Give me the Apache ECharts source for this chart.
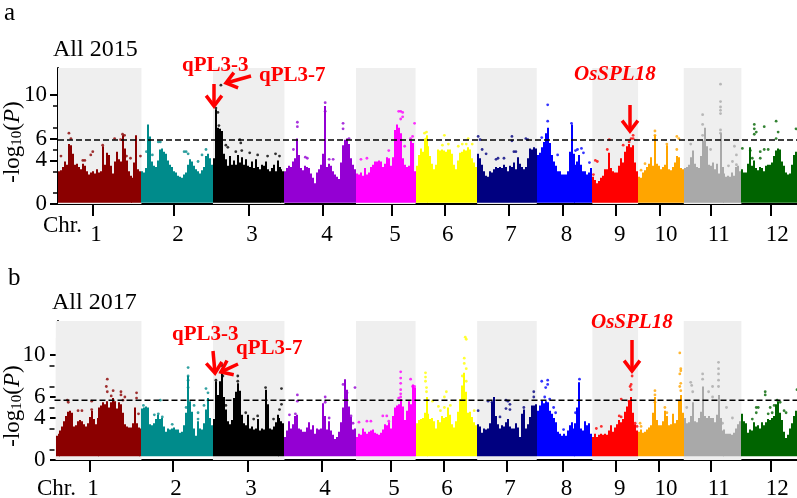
<!DOCTYPE html>
<html>
<head>
<meta charset="utf-8">
<style>html,body{margin:0;padding:0;background:#fff}#c{width:797px;height:498px}</style>
<script src="https://cdn.jsdelivr.net/npm/echarts@6/dist/echarts.min.js"></script>
</head>
<body>
<div id="c"></div>
<script>
const chromosomes = ['1','2','3','4','5','6','7','8','9','10','11','12'];
const chrStartMb = [0,42,78,114,150,180,211,241,269,292,315,344];
const chrLengthMb = [42,36,36,36,30,31,30,28,23,23,29,28];
const tickMb2015 = [17.6,58.4,96.1,133.4,168,194.8,227,254,280.7,302.9,328.6,358.8];
const labelMb2015 = [19.1,60.4,97.6,135.4,169.6,196.2,228,256,282.8,306,332.6,362];
const tickMb2017 = [16.1,57.7,95.6,132.9,167.5,194.2,226,254,280.7,302.4,328.6,358.8];
const labelMb2017 = [17.6,59.4,97.1,134.4,169.1,195.8,227.5,256,282.8,306,332.6,362];
const yMajorTicks = [0,2,4,6,8,10];
const yMinorTicks = [1,3,5,7,9];
const threshold2015 = 5.87;
const threshold2017 = 5.7;

// Upper envelope of the dense points, one value per bin along each chromosome
const envelope2015 = [
 [3.0,3.1,3.4,3.9,3.6,5.5,5.4,4.6,3.6,3.7,3.4,3.2,3.7,3.5,3.0,2.7,2.9,3.0,2.8,3.2,2.9,3.0,5.3,3.6,4.7,4.5,3.5,2.8,3.9,4.8,4.1,3.9,6.3,5.1,4.0,3.0,2.6,2.4,3.8,6.3,3.2,3.0],
 [3.0,2.9,3.3,7.3,6.2,3.9,3.5,3.4,4.0,5.0,5.1,4.8,4.6,4.0,3.6,3.4,3.0,2.9,2.6,2.5,2.4,2.7,2.9,3.6,4.1,3.9,3.5,3.2,3.0,2.8,3.1,3.4,4.4,4.6,4.2,3.6],
 [4.2,8.7,7.0,6.9,6.7,4.6,4.1,3.5,4.4,3.6,4.0,3.6,4.5,3.8,4.3,3.6,4.1,3.5,3.4,3.9,3.3,4.1,3.4,3.2,3.6,3.5,3.9,3.2,3.0,3.3,3.6,3.0,4.0,3.4,3.2,3.0],
 [3.0,3.3,3.5,3.4,3.9,4.2,6.0,4.5,3.3,3.1,3.5,3.4,3.3,2.8,2.4,1.9,2.9,3.2,3.6,4.6,9.0,3.4,3.7,3.5,3.0,2.7,2.5,2.3,3.8,5.4,5.9,6.0,5.5,4.2,3.6,3.2],
 [2.8,2.7,2.9,2.6,3.3,2.7,2.9,3.4,3.6,3.9,3.9,4.0,3.9,3.4,3.7,4.3,4.2,3.5,4.3,6.8,7.3,7.0,6.5,4.2,3.6,3.4,3.5,5.8,5.6,3.0],
 [3.5,4.5,5.1,4.8,6.0,6.3,5.3,4.4,3.7,3.2,3.6,5.0,4.9,5.0,4.9,4.8,5.0,5.0,4.6,3.6,3.2,4.0,4.7,4.8,5.0,4.9,5.2,5.0,4.2,3.8,3.4],
 [4.6,4.2,3.6,3.0,2.6,2.5,3.0,2.9,3.2,3.4,3.3,3.4,3.3,3.6,3.4,3.0,3.5,3.4,3.8,3.2,4.3,3.7,3.4,3.2,3.4,4.2,5.1,5.0,5.2,5.1],
 [4.5,4.7,5.2,5.7,6.5,7.0,5.6,4.5,3.9,3.5,3.0,3.0,2.7,2.7,2.7,3.0,4.8,7.3,4.6,3.6,3.9,4.5,3.6,3.0,3.0,2.7,2.9,3.3],
 [2.5,2.2,1.9,2.1,2.4,2.6,3.2,3.2,4.7,3.3,3.0,2.9,2.9,3.5,4.2,3.8,4.8,5.3,5.5,5.2,5.4,3.8,3.0],
 [2.5,2.4,2.9,3.1,3.4,3.7,4.3,3.5,6.3,3.7,3.5,3.2,3.4,3.6,5.4,3.2,3.1,3.4,3.8,4.4,4.3,3.3,3.2],
 [3.3,3.4,3.6,4.3,4.9,3.7,3.4,3.3,4.4,5.8,7.0,5.3,3.6,3.5,3.8,3.2,3.7,2.8,6.5,3.4,2.8,2.5,2.6,2.5,2.9,2.6,3.4,3.5,3.0],
 [3.2,2.9,2.9,3.7,5.2,3.5,4.0,3.3,3.1,3.4,3.3,3.0,3.5,3.6,3.6,3.8,4.4,4.9,5.1,5.0,3.9,3.5,2.9,2.7,2.8,3.6,4.5,4.8]
];
const envelope2017 = [
 [2.3,2.5,2.8,3.2,3.7,4.2,4.6,4.7,4.5,3.2,3.3,3.7,3.8,3.7,3.4,3.2,3.5,4.1,4.7,3.9,3.4,4.0,5.0,5.2,5.5,5.3,5.6,5.0,5.5,5.9,5.6,4.9,5.5,5.3,4.5,3.4,3.2,3.1,3.1,3.5,5.0,3.5,3.1,3.0],
 [4.9,5.0,5.1,5.0,3.4,3.3,3.5,3.9,4.3,3.9,4.0,3.2,2.7,3.0,2.9,3.0,3.1,2.9,2.9,2.6,2.7,3.3,4.5,8.0,5.6,4.6,3.0,2.3,3.7,3.0,2.9,3.5,4.8,5.9,4.0,3.3],
 [3.9,7.5,6.2,7.5,8.6,6.0,4.8,3.7,3.4,3.8,5.9,6.5,7.3,6.6,4.3,3.5,3.3,4.3,3.0,3.2,2.9,3.0,3.9,2.8,3.0,2.9,6.7,5.3,3.0,2.9,3.2,3.6,4.3,4.0,3.7,3.5],
 [2.2,2.8,3.7,3.0,3.4,4.2,4.3,3.0,2.9,2.7,2.7,3.1,3.6,2.9,3.3,2.5,3.0,2.9,3.0,5.4,4.2,2.9,3.7,2.8,2.4,2.0,2.2,2.7,3.6,5.0,7.7,6.7,5.1,4.1,2.9,3.0],
 [2.2,2.5,2.4,3.0,2.7,2.5,2.7,2.8,2.9,2.6,2.5,2.4,2.6,2.9,3.4,3.3,3.6,3.0,4.2,5.0,5.2,5.3,5.8,5.1,3.8,4.7,5.6,5.3,7.2,6.9],
 [3.5,3.8,3.9,4.0,4.5,6.0,4.4,3.9,4.0,3.7,3.0,3.8,3.6,4.2,4.0,4.1,5.0,4.3,3.4,3.1,3.7,4.6,5.8,7.1,8.3,6.5,4.5,4.6,4.1,3.6,3.3],
 [3.4,3.2,2.6,3.0,2.9,3.0,3.5,5.5,6.0,4.2,3.4,3.0,3.3,3.2,3.6,3.9,3.2,3.0,3.0,3.5,3.1,2.2,4.4,4.8,3.0,3.4,4.1,5.2,5.2,5.3],
 [4.7,5.2,5.7,5.4,5.6,5.5,4.7,4.4,4.0,3.6,2.7,2.5,2.3,2.5,2.3,2.8,3.3,3.6,3.0,3.5,5.0,7.4,3.0,2.8,3.7,3.3,3.5,2.5],
 [2.2,2.5,2.2,2.4,2.5,2.4,2.5,2.4,2.8,3.3,2.7,3.1,3.4,3.8,3.6,3.9,4.6,5.1,5.7,6.0,4.5,3.4,2.8],
 [2.7,2.9,2.6,2.7,2.9,3.1,3.3,4.5,6.0,3.8,3.3,3.3,3.7,4.7,4.2,3.3,3.4,4.4,3.5,3.8,5.7,6.2,4.5],
 [4.0,3.5,3.6,4.2,5.5,3.7,3.6,4.0,4.6,7.0,4.2,4.0,4.2,4.0,4.0,3.6,4.3,6.2,4.0,2.8,2.9,2.5,2.5,2.5,2.4,2.6,3.0,3.4,3.7],
 [4.4,3.7,3.5,2.6,2.9,2.8,3.6,3.2,3.3,3.0,3.6,3.3,3.6,3.9,3.8,4.0,4.2,5.3,5.6,4.5,3.8,2.7,2.1,2.4,3.0,3.5,4.2,4.7]
];

// Isolated points above the envelope: [bin along the chromosome, -log10 P]
const peaks2015 = [
 [[1,4.4],[5,6.5],[6,6.0],[12,4.0],[13,4.0],[16,4.5],[17,4.8],[22,5.4],[28,6.0],[32,6.4],[33,6.3],[31,5.9],[34,4.4],[36,4.2],[41,4.4]],
 [[2,4.8],[5,4.5],[8,5.7],[9,5.7],[21,4.8],[22,4.8],[23,4.6],[30,4.5],[28,3.9],[32,5.0]],
 [[1,8.8],[2,8.4],[3.5,10.9],[2.5,7.2],[6,5.4],[7,5.2],[13,5.9],[13.5,5.6],[11,4.8],[14,4.9],[18,4.7],[22,4.5],[27,4.4],[33,4.4],[31,4.6]],
 [[6,7.5],[6,7.1],[4,5.0],[10,4.3],[11,4.2],[22,4.1],[24,4.1],[29,7.4],[29,6.9],[32,6.0],[20,9.3],[20,8.5]],
 [[2,4.1],[5,4.2],[16,4.9],[21,8.5],[22,8.5],[23,8.4],[22,7.8],[23,8.0],[29,7.4],[28,6.2],[24,5.3],[27,6.0],[21,6.7]],
 [[5,6.6],[4,6.5],[5,6.0],[14,6.3],[13,5.4],[16,5.5],[21,5.3],[23,5.5],[25,5.5],[26,6.0],[28,5.5]],
 [[0,6.2],[1,5.9],[2,5.0],[4,4.6],[9,4.1],[10,4.2],[13,4.2],[17,6.2],[17,5.8],[24,6.0],[25,5.9],[18,4.8],[19,4.8]],
 [[5,9.1],[5,7.6],[10,4.5],[17,7.4],[19,4.9],[20,5.0],[22,5.1],[23,4.7],[26,3.8],[2,6.1]],
 [[1,4.0],[2,3.9],[0,2.7],[7,5.0],[8,5.9],[15,5.4],[18,5.7],[19,6.0],[20,6.0],[20,6.3]],
 [[8,6.7],[8,6.3],[3,3.7],[1,3.1],[6,3.3],[19,6.2],[20,6.0],[14,5.5],[19,5.0]],
 [[3,5.5],[9,8.2],[9,7.3],[9,6.3],[18,11.0],[18,9.4],[18,8.9],[18,8.6],[18,8.3],[18,6.8],[18,6.5],[13,5.0],[22,3.5],[26,4.5],[25,5.3],[24,3.9],[26,3.6]],
 [[0,5.1],[6,7.3],[6,6.9],[7,6.6],[6,6.4],[11,7.1],[17,7.6],[18,6.6],[17,6.0],[27,6.9],[9,4.2],[9,4.8],[11,5.0],[13,5.0],[4,4.9],[5,4.2]]
];
const peaks2017 = [
 [[5.5,5.7],[6,5.5],[11,4.7],[13,4.7],[18,4.8],[18,5.6],[26,7.7],[25.5,7.0],[26,6.5],[29,6.6],[28,6.1],[33,6.5],[33,6.2],[35,6.0],[41,6.4],[41,5.9],[34,5.7],[42,4.4]],
 [[0.5,5.2],[6,4.3],[8,4.4],[10,4.1],[15,3.4],[9,5.7],[23,8.8],[23,8.0],[23,7.6],[23,6.9],[26,5.2],[28,4.5],[32,6.8],[33,6.4],[31,5.2],[33,5.7],[28,3.9],[22,5.0]],
 [[4,9.0],[3.5,8.4],[4.5,8.0],[12,8.0],[12,7.5],[6,5.2],[16,4.5],[20,3.9],[22,4.2],[26,6.9],[34,6.8],[34,5.3],[1,7.6],[33,4.8],[30,3.9]],
 [[6,6.2],[6,5.6],[2,4.3],[5,4.4],[20,6.0],[20,5.5],[22,4.0],[29,7.2],[35,6.9],[33,4.2],[34,3.5],[31,6.4]],
 [[1,3.6],[5,3.7],[7,3.7],[13,4.2],[15,4.2],[16,3.7],[22,8.4],[22,7.8],[22,7.3],[22,6.7],[22,6.3],[27,7.7],[28,7.0],[29,7.0],[22,6.0],[21,5.9]],
 [[4.5,8.3],[4.5,7.9],[4.5,7.5],[5,6.9],[5,6.5],[8,5.6],[11,5.1],[12,4.7],[14,6.0],[15,6.5],[17,5.2],[14,5.0],[24,6.3],[24,6.1],[23,8.0],[24,9.7],[24.5,11.7],[25,11.5],[24,9.2],[25,8.7],[25,7.5],[29,4.7]],
 [[0,4.7],[5,5.6],[7,5.5],[14,5.7],[15,5.6],[16,5.3],[14,4.9],[16,4.8],[28,6.5],[28,6.0],[11,4.1],[23,5.0]],
 [[2,7.5],[5,7.6],[5,7.2],[4,6.9],[3.5,6.0],[6,5.8],[9,4.5],[8,5.0],[19,4.5],[20,4.6],[21,7.7],[13,2.9]],
 [[1.5,3.0],[4,3.2],[13,4.2],[14,4.1],[14,5.8],[18,5.6],[19,7.2],[19.5,8.0],[19,6.7],[18.5,7.0],[21,3.5],[22,3.2]],
 [[0.5,3.5],[1,3.2],[8,6.6],[8,6.2],[8,5.5],[13,5.0],[20.5,10.2],[21,8.7],[21,8.5],[20.5,8.2],[21,7.3],[20.5,7.0],[21,6.6],[14,4.5]],
 [[3,7.4],[3.5,7.1],[4,6.5],[9,8.2],[9,7.7],[14,7.0],[14,6.0],[17,9.3],[17,8.7],[17,8.2],[17,7.6],[17,7.0],[21,5.0],[19,3.5],[24,4.0],[1,5.0],[12,6.5]],
 [[7,5.0],[7,4.5],[11.5,6.5],[11.5,6.2],[17.5,5.7],[19,5.5],[14,5.0],[13,4.4],[15,4.5],[22,4.5],[27.5,6.7],[16,5.2],[21,4.7],[5,3.9],[8,5.0]]
];

const colors = ['#8B0000','#008B8B','#000000','#9400D3','#FF00FF','#FFFF00','#000080','#0000FF','#FF0000','#FFA500','#A9A9A9','#006400'];
const SERIF = '"Liberation Serif","Times New Roman",serif';

const panels = [
 {name:'All 2015', envelope:envelope2015, peaks:peaks2015, ticks:tickMb2015, labels:labelMb2015, thr:threshold2015,
  left:58, top:68, height:136, yMax:12.48, xMin:0, floor:0.12, first:[0,42], labelMargin:19, yLabelMargin:11},
 {name:'All 2017', envelope:envelope2017, peaks:peaks2017, ticks:tickMb2017, labels:labelMb2017, thr:threshold2017,
  left:54.5, top:321, height:139, yMax:13.24, xMin:-1.76, floor:0.36, first:[-1.2,43.2], labelMargin:17, yLabelMargin:9}
];

const grid=[], xAxis=[], yAxis=[], series=[];
panels.forEach((p,pi)=>{
  const yi=pi*2;
  grid.push({left:p.left, top:p.top, right:0, height:p.height, outerBoundsMode:'none'});
  xAxis.push({type:'value', gridIndex:pi, min:p.xMin, max:372, position:'bottom',
    splitLine:{show:false},
    axisLine:{lineStyle:{color:'#000',width:2}},
    axisTick:{length:12, lineStyle:{color:'#000',width:2}, customValues:p.ticks},
    axisLabel:{customValues:p.labels, margin:p.labelMargin, color:'#000', fontFamily:SERIF, fontSize:23,
      hideOverlap:false, showMinLabel:true, showMaxLabel:true,
      formatter:v=>chromosomes[p.labels.indexOf(v)]}
  });
  yAxis.push({type:'value', gridIndex:pi, min:0, max:p.yMax, position:'left',
    splitLine:{show:false},
    axisLine:{show:true, lineStyle:{color:'#000',width:2}},
    axisTick:{show:true, length:8, lineStyle:{color:'#000',width:2}, customValues:yMajorTicks},
    axisLabel:{margin:p.yLabelMargin, color:'#000', fontFamily:SERIF, fontSize:23, lineHeight:16, customValues:yMajorTicks,
      hideOverlap:false, showMinLabel:true, showMaxLabel:true, formatter:v=>String(v)}
  });
  yAxis.push({type:'value', gridIndex:pi, min:0, max:p.yMax, position:'left',
    splitLine:{show:false}, axisLine:{show:false}, axisLabel:{show:false},
    axisTick:{show:true, length:5, lineStyle:{color:'#000',width:1.5}, customValues:yMinorTicks}
  });

  // shaded bands on alternating chromosomes
  const bands=[];
  chrStartMb.forEach((s,i)=>{ if(i%2===0){
    const st=i===0?p.first[0]:s, ln=i===0?p.first[1]:chrLengthMb[i];
    bands.push([{xAxis:st,yAxis:0},{xAxis:st+ln,yAxis:p.yMax}]);
  }});
  series.push({type:'line', name:p.name+' bands', xAxisIndex:pi, yAxisIndex:yi, data:[], z:1, silent:true,
    markArea:{silent:true, itemStyle:{color:'#EFEFEF'}, data:bands}});

  chromosomes.forEach((c,i)=>{
    const st=i===0?p.first[0]:chrStartMb[i], ln=i===0?p.first[1]:chrLengthMb[i];
    const n=p.envelope[i].length, step=ln/n;
    series.push({type:'custom', name:p.name+' Chr'+c, xAxisIndex:pi, yAxisIndex:yi, z:2, silent:true,
      encode:{x:0,y:1},
      data:p.envelope[i].map((v,k)=>[st+(k+0.5)*step, v]),
      renderItem:(params,api)=>{
        const top=api.coord([api.value(0),api.value(1)]);
        const base=api.coord([api.value(0),p.floor]);
        const w=Math.ceil(api.size([step,0])[0]);
        return {type:'rect', shape:{x:Math.round(top[0]-w/2),y:top[1],width:w,height:base[1]-top[1]}, style:{fill:colors[i]}};
      }});
    series.push({type:'scatter', name:p.name+' Chr'+c+' peaks', xAxisIndex:pi, yAxisIndex:yi, z:3, silent:true,
      symbol:'circle', symbolSize:2.8, itemStyle:{color:colors[i]},
      data:p.peaks[i].map(d=>[st+(d[0]+0.5)*step, d[1]])});
  });

  series.push({type:'line', name:p.name+' threshold', xAxisIndex:pi, yAxisIndex:yi, z:5, silent:true, showSymbol:false,
    lineStyle:{color:'#000',width:1.5,type:[6,3]}, data:[[p.xMin,p.thr],[372,p.thr]]});
});

const text=(x,y,t,o)=>({type:'text',x,y,z:20,silent:true,style:Object.assign({text:t,fill:'#000',font:'23px '+SERIF,textVerticalAlign:'middle'},o||{})});
const redFont='bold 21px '+SERIF, redItalic='italic bold 21px '+SERIF;
function arrow(x1,y1,x2,y2){
  const a=Math.atan2(y2-y1,x2-x1), h=13, s=0.65;
  return [
    {type:'line',z:21,silent:true,shape:{x1,y1,x2:x2-Math.cos(a)*2,y2:y2-Math.sin(a)*2},style:{stroke:'#FF0000',lineWidth:3.5}},
    {type:'polyline',z:21,silent:true,shape:{points:[[x2-h*Math.cos(a-s),y2-h*Math.sin(a-s)],[x2,y2],[x2-h*Math.cos(a+s),y2-h*Math.sin(a+s)]]},style:{stroke:'#FF0000',fill:'none',lineWidth:3.5}}
  ];
}
const yTitle=(x,y)=>({type:'text',x,y,rotation:Math.PI/2,z:20,silent:true,style:{
  text:'-log{s|10}({i|P})', fill:'#000', font:'23px '+SERIF, align:'center', verticalAlign:'middle',
  rich:{s:{font:'15px '+SERIF, fill:'#000', verticalAlign:'bottom'}, i:{font:'italic 23px '+SERIF, fill:'#000'}}
}});
const graphic=[
  {type:'rect',z:19,silent:true,shape:{x:50,y:316,width:5.5,height:22},style:{fill:'#fff'}},
  yTitle(13,142),
  yTitle(13,406),
  text(4,13,'a',{font:'25px '+SERIF}),
  text(8,278,'b',{font:'25px '+SERIF}),
  text(53,50,'All 2015',{font:'24px '+SERIF}),
  text(52,303,'All 2017',{font:'24px '+SERIF}),
  text(43,226,'Chr.',{font:'23px '+SERIF}),
  text(37,489,'Chr.',{font:'23px '+SERIF}),
  text(182,66,'qPL3-3',{fill:'#FF0000',font:redFont}),
  text(259,76,'qPL3-7',{fill:'#FF0000',font:redFont}),
  text(574,75,'OsSPL18',{fill:'#FF0000',font:redItalic}),
  text(172,335,'qPL3-3',{fill:'#FF0000',font:redFont}),
  text(236,349,'qPL3-7',{fill:'#FF0000',font:redFont}),
  text(591,323,'OsSPL18',{fill:'#FF0000',font:redItalic}),
  ...arrow(214,84,214,106),
  ...arrow(251,76,226,83),
  ...arrow(630,105,630,131),
  ...arrow(213,351,215,373),
  ...arrow(238,364,221,372),
  ...arrow(632,340,632,371)
];

const chart=echarts.init(document.getElementById('c'),null,{renderer:'canvas'});
chart.setOption({animation:false,backgroundColor:'#fff',grid,xAxis,yAxis,series,graphic});
</script>
</body>
</html>
